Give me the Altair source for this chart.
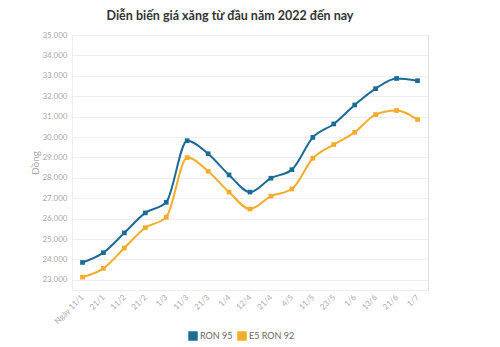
import altair as alt
import pandas as pd

dates = ["Ngày 11/1", "21/1", "11/2", "21/2", "1/3", "11/3", "21/3", "1/4", "12/4",
         "21/4", "4/5", "11/5", "23/5", "1/6", "13/6", "21/6", "1/7"]
ron95 = [23850, 24330, 25300, 26280, 26800, 29820, 29180, 28140, 27300,
         27980, 28400, 29980, 30640, 31570, 32370, 32870, 32760]
e5 = [23130, 23560, 24560, 25550, 26070, 28990, 28320, 27300, 26470,
      27100, 27450, 28960, 29630, 30230, 31100, 31300, 30860]
series = ["RON 95", "E5 RON 92"]
colors = ["#1b6b97", "#f5ab2b"]
yticks = list(range(23000, 35001, 1000))

rows = []
for i, d in enumerate(dates):
    rows.append({"date": d, "series": series[0], "value": ron95[i]})
    rows.append({"date": d, "series": series[1], "value": e5[i]})
df = pd.DataFrame(rows)

FONT = "Lato"

x = alt.X("date:N", sort=dates, title=None,
          scale=alt.Scale(type="point", padding=0.5),
          axis=alt.Axis(labelAngle=-45, labelAlign="right", labelBaseline="middle",
                        labelFontSize=8, labelColor="#aaaaaa", labelFont=FONT,
                        ticks=False, domain=True, domainColor="#eeeeee", grid=False,
                        labelPadding=6))
y = alt.Y("value:Q", title="Đồng",
          scale=alt.Scale(domain=[22500, 35000], nice=False, zero=False),
          axis=alt.Axis(values=yticks, format=",.0f", labelExpr="replace(datum.label, ',', '.')",
                        labelFontSize=8, labelColor="#aaaaaa", labelFont=FONT,
                        titleFontSize=10, titleColor="#aaaaaa", titleFont=FONT,
                        titleFontWeight="normal", titlePadding=1,
                        ticks=False, domain=True, domainColor="#eeeeee",
                        gridColor="#eeeeee", labelPadding=5))
color = alt.Color("series:N", sort=series,
                  scale=alt.Scale(domain=series, range=colors),
                  legend=alt.Legend(title=None, orient="none", direction="horizontal",
                                    legendX=116, legendY=296, symbolType="square",
                                    symbolSize=90, symbolStrokeWidth=0,
                                    labelFontSize=9, labelColor="#666666", labelFont=FONT,
                                    columnPadding=4, symbolOffset=0, labelOffset=2))

base = alt.Chart(df).encode(x=x, y=y, color=color)
lines = base.mark_line(interpolate="monotone", strokeWidth=2)
points = base.mark_point(filled=True, size=22, opacity=1, shape="square")

chart = (lines + points).properties(
    width=356, height=255,
    title=alt.TitleParams("Diễn biến giá xăng từ đầu năm 2022 đến nay",
                          font=FONT, fontSize=12.5, fontWeight="bold", color="#333333",
                          anchor="middle", dx=-20, offset=9),
    autosize=alt.AutoSizeParams(type="none"),
    padding={"left": 72, "top": 35, "right": 72, "bottom": 57},
).configure_view(stroke=None).configure(background="white")

chart.save("out.html", embed_options={"renderer": "svg", "actions": False})
